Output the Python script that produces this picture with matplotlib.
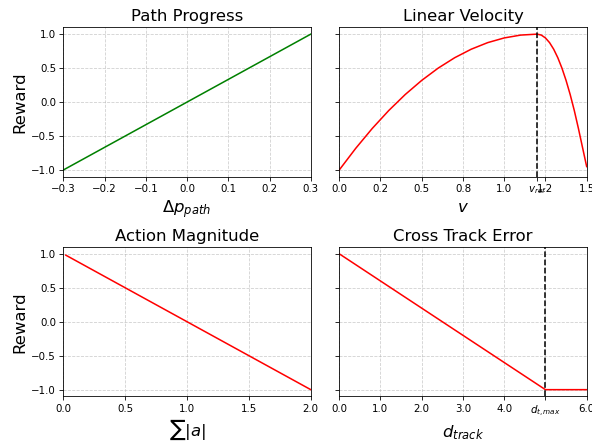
import matplotlib
matplotlib.use("Agg")
from matplotlib import pyplot as plt

# path progress
dp_path = [-0.3, 0.3]
r_path = [-1.0, 1.0]

# linear velocity
v_ref = 1.2
vel = [0.0, 0.1, 0.2, 0.3, 0.4, 0.5, 0.6, 0.7, 0.8, 0.9, 1.0, 1.1, 1.2,
       1.225, 1.25, 1.275, 1.3, 1.325, 1.35, 1.375, 1.4, 1.425, 1.45, 1.475, 1.5]
r_vel = [-1.0, -0.681, -0.389, -0.125, 0.111, 0.319, 0.5, 0.653, 0.778, 0.875,
         0.944, 0.986, 1.0,
         0.986, 0.944, 0.875, 0.778, 0.653, 0.5, 0.319, 0.111, -0.125, -0.389,
         -0.67, -0.95]
vel_ticks = [0.0, 0.25, 0.5, 0.75, 1.0, v_ref, 1.25, 1.5]
vel_labels = ["0.0", "0.2", "0.5", "0.8", "1.0", "$v_{ref}$", "1.2", "1.5"]

# action magnitude
act = [0.02, 2.0]
r_act = [0.98, -1.0]

# cross track error
d_max = 5.0
d_track = [0.0, d_max, 6.0]
r_track = [1.0, -1.0, -1.0]
track_ticks = [0, 1, 2, 3, 4, d_max, 6]
track_labels = ["0.0", "1.0", "2.0", "3.0", "4.0", "$d_{t,max}$", "6.0"]


def main():
    fig, axes = plt.subplots(2, 2, figsize=(8, 441 / 74), dpi=74, sharey=True)
    ax1, ax2, ax3, ax4 = axes.flatten()

    ax1.plot(dp_path, r_path, color="g", lw=1.5)
    ax1.set_xlim(-0.3, 0.3)
    ax1.set_title("Path Progress", fontsize=16)
    ax1.set_xlabel(r"$\Delta p_{path}$", fontsize=16)
    ax1.set_ylabel("Reward", fontsize=16)

    ax2.plot(vel, r_vel, color="r", lw=1.5)
    ax2.axvline(v_ref, color="k", ls="--", lw=1.5)
    ax2.set_xlim(0, 1.5)
    ax2.set_xticks(vel_ticks)
    ax2.set_xticklabels(vel_labels)
    ax2.set_title("Linear Velocity", fontsize=16)
    ax2.set_xlabel("$v$", fontsize=16)

    ax3.plot(act, r_act, color="r", lw=1.5)
    ax3.set_xlim(0, 2)
    ax3.set_xticks([0.0, 0.5, 1.0, 1.5, 2.0])
    ax3.set_title("Action Magnitude", fontsize=16)
    ax3.set_xlabel(r"$\sum|a|$", fontsize=16)
    ax3.set_ylabel("Reward", fontsize=16)

    ax4.plot(d_track, r_track, color="r", lw=1.5)
    ax4.axvline(d_max, color="k", ls="--", lw=1.5)
    ax4.set_xlim(0, 6)
    ax4.set_xticks(track_ticks)
    ax4.set_xticklabels(track_labels)
    ax4.set_title("Cross Track Error", fontsize=16)
    ax4.set_xlabel("$d_{track}$", fontsize=16)

    for ax in axes.flatten():
        ax.set_yticks([-1.0, -0.5, 0.0, 0.5, 1.0])
        ax.grid(True, ls="--", alpha=0.6)

    fig.subplots_adjust(left=0.107, right=0.991, top=0.938, bottom=0.101,
                        wspace=0.115, hspace=0.47)
    fig.savefig("out.png", dpi=74)


if __name__ == "__main__":
    main()
